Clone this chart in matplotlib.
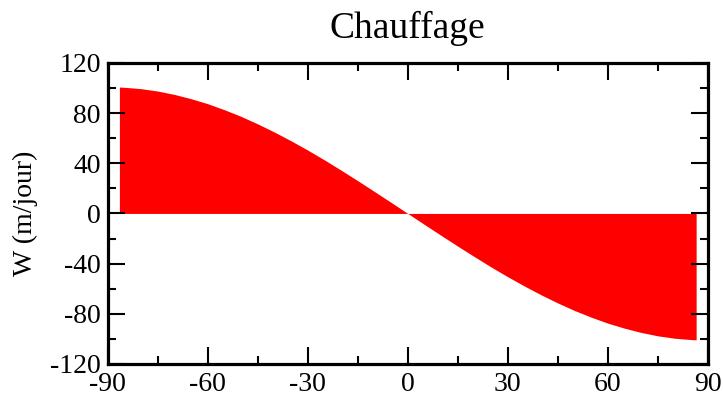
import matplotlib
matplotlib.use("Agg")
import matplotlib.pyplot as plt
from matplotlib.ticker import MultipleLocator

latitude = [-86.5, -85, -80, -75, -70, -65, -60, -55, -50, -45, -40, -35, -30, -25, -20, -15, -10, -5, 0,
            5, 10, 15, 20, 25, 30, 35, 40, 45, 50, 55, 60, 65, 70, 75, 80, 85, 86.5]
w_values = [100.8, 100.6, 99.5, 97.6, 94.9, 91.5, 87.5, 82.7, 77.4, 71.4, 64.9, 57.9, 50.5, 42.7,
            34.5, 26.1, 17.5, 8.8, 0.0,
            -8.8, -17.5, -26.1, -34.5, -42.7, -50.5, -57.9, -64.9, -71.4, -77.4, -82.7, -87.5,
            -91.5, -94.9, -97.6, -99.5, -100.6, -100.8]
title = "Chauffage"
ylabel = "W (m/jour)"
xticks = [-90, -60, -30, 0, 30, 60, 90]
yticks = [-120, -80, -40, 0, 40, 80, 120]

plt.rcParams['font.family'] = ['Liberation Serif', 'DejaVu Serif']
plt.rcParams['axes.unicode_minus'] = False

fig = plt.figure(figsize=(7.23, 3.96), dpi=100)
ax = fig.add_axes([0.149, 0.081, 0.830, 0.760])
ax.fill_between(latitude, w_values, 0, color='#ff0000', linewidth=0)
ax.set_xlim(-90, 90)
ax.set_ylim(-120, 120)
ax.set_xticks(xticks)
ax.set_yticks(yticks)
ax.xaxis.set_minor_locator(MultipleLocator(15))
ax.yaxis.set_minor_locator(MultipleLocator(20))
ax.tick_params(which='both', direction='in', top=True, right=True, width=1.5, labelsize=20)
ax.tick_params(axis='x', pad=6)
ax.tick_params(axis='y', pad=5)
ax.tick_params(which='major', length=12)
ax.tick_params(which='minor', length=6)
for lab in ax.get_yticklabels():
    lab.set_verticalalignment('center_baseline')
for s in ax.spines.values():
    s.set_linewidth(2.3)
ax.set_title(title, fontsize=27, pad=18)
ax.set_ylabel(ylabel, fontsize=20, labelpad=9)
fig.savefig("out.png", dpi=100)
